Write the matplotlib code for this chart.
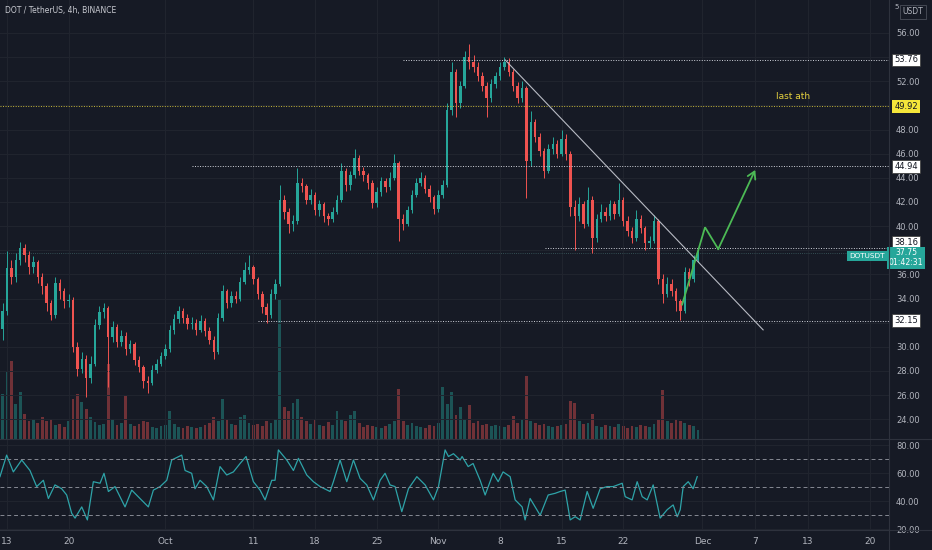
import numpy as np
import pandas as pd
import matplotlib
matplotlib.use("Agg")
import matplotlib.pyplot as plt
import matplotlib.transforms as mtransforms

# ---- data (DOT/USDT, 12h resampled) ----
first_candle = "2021-09-12 12:00"
first_open = 31.5
closes = [
    33.0, 36.5, 35.8, 37.2, 38.2, 37.6, 36.6, 37.0, 35.8, 35.0,
    33.6, 32.6, 35.3, 34.6, 33.8, 33.9, 30.0, 28.2, 29.0, 27.4,
    28.6, 31.8, 32.9, 33.2, 30.8, 31.6, 30.4, 30.9, 29.8, 30.2,
    28.9, 28.3, 27.2, 27.0, 28.1, 28.6, 29.2, 29.8, 31.4, 32.3,
    33.0, 32.4, 31.9, 32.0, 31.4, 32.1, 31.3, 30.6, 29.6, 32.4,
    34.6, 33.6, 34.2, 34.0, 35.4, 36.4, 36.6, 35.6, 34.4, 33.3,
    32.6, 34.4, 35.2, 42.2, 41.2, 40.2, 40.4, 43.6, 43.3, 42.2,
    42.6, 41.3, 41.8, 40.8, 40.6, 41.2, 42.2, 44.6, 43.4, 44.2,
    45.6, 44.6, 44.2, 43.6, 41.9, 42.8, 43.7, 43.2, 44.0, 45.2,
    40.6, 40.2, 41.3, 42.6, 43.6, 44.0, 43.1, 42.4, 41.4, 42.6,
    43.4, 49.6, 52.8, 50.2, 51.6, 54.0, 53.6, 53.2, 52.4, 51.6,
    50.6, 51.8, 52.4, 53.2, 53.6, 52.8, 51.6, 50.6, 51.4, 45.4,
    48.6, 47.4, 46.2, 44.6, 46.4, 46.8, 46.0, 47.2, 46.0, 41.6,
    40.8, 41.8, 40.2, 42.2, 39.0, 40.6, 41.2, 40.8, 41.8, 41.0,
    42.2, 40.4, 39.6, 39.0, 40.6, 39.8, 38.6, 38.8, 40.4, 35.6,
    34.4, 35.2, 34.6, 33.8, 33.0, 36.2, 35.6, 37.2, 37.75,
]
highs = [
    33.6, 37.9, 37.2, 37.8, 38.7, 38.5, 37.9, 37.5, 37.2, 36.1,
    35.3, 33.9, 35.8, 35.6, 34.9, 34.4, 34.1, 30.4, 29.6, 29.3,
    29.2, 32.3, 33.4, 33.6, 33.4, 32.1, 31.9, 31.4, 31.2, 30.6,
    30.4, 29.2, 28.5, 27.6, 28.5, 29.0, 29.6, 30.2, 31.8, 32.7,
    33.4, 33.2, 32.7, 32.5, 32.3, 32.6, 32.4, 31.6, 30.9, 32.8,
    35.1, 34.8, 34.6, 34.6, 35.8, 37.0, 37.6, 36.8, 35.8, 34.6,
    33.6, 34.8, 35.6, 43.4, 42.6, 41.5, 40.9, 44.8, 44.0, 43.5,
    43.1, 42.8, 42.2, 42.0, 41.1, 41.6, 42.6, 45.2, 44.8, 44.6,
    46.4, 45.9, 44.9, 44.4, 43.8, 43.2, 44.1, 44.0, 44.5, 46.0,
    45.4, 41.0, 41.7, 43.0, 44.0, 44.5, 44.2, 43.4, 42.6, 43.0,
    43.8, 50.2, 53.6, 53.0, 52.0, 54.5, 55.1, 54.2, 53.6, 52.8,
    51.9, 52.2, 52.8, 53.6, 54.0, 53.9, 53.0, 51.9, 52.0, 51.6,
    49.5, 48.9, 47.7, 46.5, 46.8, 47.4, 47.1, 48.0, 47.6, 46.2,
    42.2, 42.4, 42.1, 43.2, 42.5, 41.0, 41.8, 41.6, 42.2, 42.1,
    43.6, 42.4, 40.8, 39.9, 41.3, 40.9, 40.0, 39.2, 40.9, 40.6,
    36.0, 35.8, 35.6, 34.9, 34.0, 36.6, 36.5, 37.6, 38.0,
]
lows = [
    30.6, 32.6, 35.2, 35.4, 36.8, 37.0, 36.0, 36.1, 35.3, 34.4,
    33.0, 32.2, 32.4, 34.0, 33.2, 33.3, 29.6, 27.6, 27.8, 25.8,
    27.0, 28.4, 31.5, 32.4, 26.7, 30.4, 30.0, 30.1, 29.3, 29.5,
    28.5, 27.9, 26.6, 26.2, 26.8, 27.8, 28.4, 29.0, 29.6, 31.1,
    32.0, 32.0, 31.5, 31.5, 31.0, 31.2, 30.9, 30.2, 29.0, 29.4,
    32.1, 33.2, 33.3, 33.6, 33.8, 35.2, 36.0, 35.2, 34.0, 32.8,
    32.0, 32.4, 34.0, 35.0, 40.6, 39.4, 39.6, 40.2, 42.8, 41.8,
    41.8, 40.9, 40.8, 40.3, 40.1, 40.3, 41.0, 42.0, 42.9, 43.0,
    44.0, 44.2, 43.7, 43.1, 41.5, 41.6, 42.5, 42.8, 43.0, 43.8,
    38.8, 39.7, 40.0, 41.1, 42.4, 43.3, 42.7, 42.0, 41.0, 41.2,
    42.3, 43.2, 49.2, 49.0, 49.8, 51.4, 53.0, 52.8, 52.0, 51.2,
    49.0, 50.3, 51.4, 52.1, 52.9, 52.4, 51.2, 50.2, 50.3, 42.3,
    45.0, 47.0, 45.8, 44.0, 44.4, 46.0, 45.6, 45.8, 45.5, 40.8,
    38.0, 40.4, 39.8, 40.0, 37.8, 38.7, 40.3, 40.4, 40.5, 40.6,
    40.8, 40.0, 39.2, 38.6, 38.8, 39.4, 38.0, 38.2, 38.6, 35.2,
    33.6, 34.1, 34.2, 33.0, 32.2, 32.8, 35.0, 35.4, 37.0,
]
volumes = [
    45, 67, 78, 35, 47, 25, 18, 20, 16, 22,
    18, 20, 14, 15, 12, 18, 40, 45, 37, 30,
    22, 17, 14, 15, 75, 20, 14, 16, 43, 15,
    13, 15, 18, 17, 12, 11, 13, 14, 28, 15,
    12, 11, 13, 12, 11, 12, 14, 16, 22, 18,
    40, 20, 15, 14, 22, 24, 16, 14, 15, 13,
    18, 16, 20, 140, 32, 28, 36, 40, 22, 18,
    15, 20, 14, 13, 17, 14, 28, 20, 18, 24,
    28, 16, 12, 14, 13, 12, 11, 13, 15, 18,
    50, 18, 14, 16, 13, 12, 11, 14, 13, 16,
    52, 35, 47, 24, 32, 20, 34, 16, 18, 14,
    15, 13, 14, 13, 12, 14, 23, 16, 20, 63,
    18, 16, 14, 15, 13, 12, 13, 14, 15, 38,
    36, 18, 15, 16, 25, 13, 12, 14, 13, 12,
    15, 13, 11, 13, 12, 14, 13, 12, 15, 20,
    49, 18, 16, 20, 18, 16, 14, 13, 9,
]

rsi_days = [
    -0.80, -0.04, 0.72, 1.67, 2.61, 3.37, 4.13, 4.70, 5.45, 6.21,
    6.78, 7.35, 7.73, 8.49, 9.13, 9.81, 10.57, 11.02, 11.52, 12.27,
    13.41, 14.17, 15.11, 16.06, 16.63, 17.39, 18.15, 18.71, 19.85, 20.23,
    20.98, 21.36, 21.93, 22.69, 23.45, 24.20, 24.96, 25.72, 26.48, 27.16,
    27.99, 28.75, 29.32, 30.08, 30.45, 30.83, 31.78, 32.54, 33.11, 34.05,
    34.81, 35.57, 36.70, 37.08, 37.84, 38.60, 39.36, 40.11, 40.87, 41.63,
    42.39, 42.95, 43.52, 44.09, 44.85, 45.61, 46.56, 47.50, 48.45, 49.02,
    49.77, 50.15, 50.72, 51.48, 51.70, 52.39, 52.95, 53.75, 54.32, 55.23,
    55.80, 56.36, 57.16, 57.73, 58.52, 58.86, 59.43, 60.00, 60.57, 61.48,
    62.27, 62.84, 63.41, 63.98, 64.55, 65.11, 65.91, 66.59, 67.39, 68.18,
    68.86, 69.89, 70.23, 71.02, 71.59, 72.16, 72.73, 73.41, 74.20, 75.00,
    75.68, 76.14, 76.48, 76.82, 77.39, 77.95, 78.41,
]
rsi_vals = [
    57.6, 73.0, 61.0, 69.5, 62.0, 50.5, 55.0, 42.0, 51.7, 49.0,
    44.5, 31.4, 28.0, 36.0, 26.7, 54.0, 52.9, 60.0, 47.0, 50.5,
    36.0, 48.0, 42.0, 36.0, 48.0, 50.5, 55.0, 69.5, 73.0, 62.0,
    60.0, 49.0, 55.0, 50.5, 41.0, 64.8, 58.8, 61.0, 67.0, 72.0,
    54.0, 48.0, 41.0, 55.0, 55.0, 76.7, 69.5, 62.0, 70.7, 58.8,
    54.0, 50.5, 47.0, 54.0, 69.5, 54.0, 69.5, 56.4, 51.7, 41.0,
    55.0, 60.0, 51.7, 50.5, 32.6, 49.0, 57.6, 51.7, 41.0, 50.5,
    76.7, 72.0, 74.0, 69.5, 72.0, 64.8, 67.0, 55.0, 44.5, 60.0,
    54.0, 61.0, 57.6, 41.0, 36.0, 26.7, 42.0, 36.0, 30.0, 44.5,
    45.7, 47.0, 48.0, 26.7, 29.0, 26.7, 47.0, 35.0, 49.0, 50.5,
    50.5, 52.9, 43.3, 41.0, 54.0, 43.3, 41.0, 51.7, 28.0, 34.0,
    37.4, 29.0, 34.0, 50.5, 54.0, 49.0, 57.6,
]

# drawings on the chart: (start day, price)
levels = [(45.0, 53.76), (21.0, 44.94), (61.1, 38.16), (28.5, 32.15)]
ath_level = 49.92
last_price = 37.75
last_time_left = "01:42:31"
trend_days = [56.6, 85.9]
trend_prices = [53.76, 31.4]
path_days = [76.7, 79.3, 80.8, 85.0]
path_prices = [33.5, 39.9, 38.1, 44.65]

tick_dates = ["2021-09-13", "2021-09-20", "2021-10-01", "2021-10-11", "2021-10-18",
              "2021-10-25", "2021-11-01", "2021-11-08", "2021-11-15", "2021-11-22",
              "2021-12-01", "2021-12-07", "2021-12-13", "2021-12-20"]
tick_labels = ["13", "20", "Oct", "11", "18", "25", "Nov", "8", "15", "22",
               "Dec", "7", "13", "20"]

# ---- styling ----
BG = "#161a25"
GRID = "#21252f"
SEP = "#2e323d"
TXT = "#b2b5be"
UP = "#26a69a"
DOWN = "#ef5350"
plt.rcParams["font.family"] = ["DejaVu Sans"]

W, H = 932, 550
fig = plt.figure(figsize=(W / 100, H / 100), dpi=100)
fig.patch.set_facecolor(BG)

def fx(px):
    return px / W

def fy(py):
    return 1 - py / H

base = pd.Timestamp("2021-09-13")
times = pd.date_range(first_candle, periods=len(closes), freq="12h")
days = ((times - base) / pd.Timedelta(days=1)).to_numpy()
closes = np.array(closes)
opens = np.concatenate([[first_open], closes[:-1]])
highs = np.array(highs)
lows = np.array(lows)
up = closes >= opens
colors = np.where(up, UP, DOWN)
tick_pos = ((pd.to_datetime(tick_dates) - base) / pd.Timedelta(days=1)).to_numpy()

ax = fig.add_axes([0, fy(439), fx(889), 439 / H])
vol = ax.twinx()
rsi = fig.add_axes([0, fy(530), fx(889), (530 - 439) / H], sharex=ax)

for a in (ax, rsi):
    a.set_facecolor(BG)
    for s in a.spines.values():
        s.set_visible(False)
ax.set_zorder(vol.get_zorder() + 1)
ax.patch.set_visible(False)
vol.patch.set_facecolor(BG)
vol.set_zorder(0)
for s in vol.spines.values():
    s.set_visible(False)

xmin, xmax = -0.795, 100.2
ax.set_xlim(xmin, xmax)
ax.set_ylim(22.36, 58.73)

# volume
vol.bar(days, volumes, width=0.32, color=colors, alpha=0.42, linewidth=0)
vol.set_ylim(0, 439)
vol.set_yticks([])

# candles
ax.vlines(days, lows, highs, color=colors, linewidth=0.7, zorder=3)
ax.bar(days, np.maximum(np.abs(closes - opens), 0.08), bottom=np.minimum(opens, closes),
       width=0.28, color=colors, linewidth=0, zorder=4)

# grid / ticks; labels hidden under the price tags stay blank
yt = np.arange(24, 57, 2)
covered = {54, 50, 38, 32}
ax.set_yticks(yt)
ax.set_yticklabels(["" if v in covered else f"{v:.2f}" for v in yt])
ax.yaxis.tick_right()
ax.tick_params(axis="y", length=0, pad=5, labelsize=6, labelcolor=TXT)
ax.set_xticks(tick_pos)
ax.tick_params(axis="x", length=0, labelbottom=False)
ax.grid(True, color=GRID, linewidth=0.7)
ax.set_axisbelow(True)

# drawn levels
dots = (0, (1, 1.6))
for start, lvl in levels:
    ax.hlines(lvl, start, xmax, color="#d1d4dc", linewidth=0.7, linestyle=dots, zorder=5)
ax.hlines(ath_level, xmin, xmax, color="#c9b93a", linewidth=0.7, linestyle=dots, zorder=5)
ax.hlines(last_price, xmin, xmax, color="#3d5f62", linewidth=0.6, linestyle=dots, zorder=2)
ax.plot(trend_days, trend_prices, color="#b8bbc4", linewidth=0.8, zorder=5)
ax.plot(path_days[:-1], path_prices[:-1], color="#4cba55", linewidth=1.3, zorder=6,
        solid_joinstyle="miter")
ax.annotate("", xy=(path_days[-1], path_prices[-1]), xytext=(path_days[-2], path_prices[-2]),
            arrowprops=dict(arrowstyle="->,head_length=0.5,head_width=0.3",
                            color="#4cba55", lw=1.3, shrinkA=0, shrinkB=0), zorder=6)
ax.text(89.3, 50.7, "last ath", color="#e6d23f", fontsize=6.5, ha="center", va="center")

# right-side price tags (TradingView nudges crowded tags apart)
tr = mtransforms.blended_transform_factory(ax.transAxes, ax.transData)
xr = 906 / 889
tag_nudge = {38.16: 0.5}
for _, lvl in levels:
    ax.text(xr, lvl + tag_nudge.get(lvl, 0), f"{lvl:.2f}", transform=tr, ha="center",
            va="center", fontsize=6, color="#131722", clip_on=False, zorder=10,
            bbox=dict(boxstyle="square,pad=0.22", fc="white", ec="#333", lw=0.5))
ax.text(xr, ath_level, f"{ath_level:.2f}", transform=tr, ha="center", va="center",
        fontsize=6, color="#131722", clip_on=False, zorder=10,
        bbox=dict(boxstyle="square,pad=0.22", fc="#f5e63a", ec="none"))
ax.text(xr, last_price - 0.38, f"{last_price:.2f}\n{last_time_left}", transform=tr,
        ha="center", va="center", fontsize=5.6, color="white", clip_on=False, zorder=11,
        linespacing=1.1, bbox=dict(boxstyle="square,pad=0.22", fc=UP, ec="none"))
ax.text(867 / 889, last_price - 0.23, "DOTUSDT", transform=tr, ha="center", va="center",
        fontsize=5.2, color="white", clip_on=False, zorder=11,
        bbox=dict(boxstyle="square,pad=0.3", fc=UP, ec="none"))

# RSI pane
rsi.plot(rsi_days, rsi_vals, color="#2ea3a8", linewidth=0.9)
rsi.set_ylim(19.5, 84.5)
for lvl in (70, 50, 30):
    rsi.axhline(lvl, color="#868993", linewidth=0.7, linestyle=(0, (4, 3)))
rsi.set_yticks([20, 40, 60, 80])
rsi.set_yticklabels(["20.00", "40.00", "60.00", "80.00"])
rsi.yaxis.tick_right()
rsi.tick_params(axis="y", length=0, pad=5, labelsize=6, labelcolor=TXT)
rsi.set_xticks(tick_pos)
rsi.set_xticklabels(tick_labels)
rsi.tick_params(axis="x", length=0, pad=5, labelsize=6.5, labelcolor=TXT)
rsi.grid(True, color=GRID, linewidth=0.7)
rsi.set_axisbelow(True)
rsi.set_xlim(xmin, xmax)

# pane separators
fig.add_artist(plt.Line2D([fx(889), fx(889)], [0, 1], color=SEP, linewidth=0.8))
fig.add_artist(plt.Line2D([0, 1], [fy(439), fy(439)], color=SEP, linewidth=0.8))
fig.add_artist(plt.Line2D([0, 1], [fy(530), fy(530)], color=SEP, linewidth=0.8))

# header texts
fig.text(fx(5), fy(11), "DOT / TetherUS, 4h, BINANCE", fontsize=5.5, color="#c8cad1",
         ha="left", va="center")
fig.text(fx(913), fy(12), "USDT", fontsize=5.5, color=TXT, ha="center", va="center",
         bbox=dict(boxstyle="square,pad=0.3", fc=BG, ec="#4a4e59", lw=0.6))
fig.text(fx(897), fy(7), "5", fontsize=5, color=TXT, ha="center", va="center")

fig.savefig("out.png", dpi=100, facecolor=BG)
